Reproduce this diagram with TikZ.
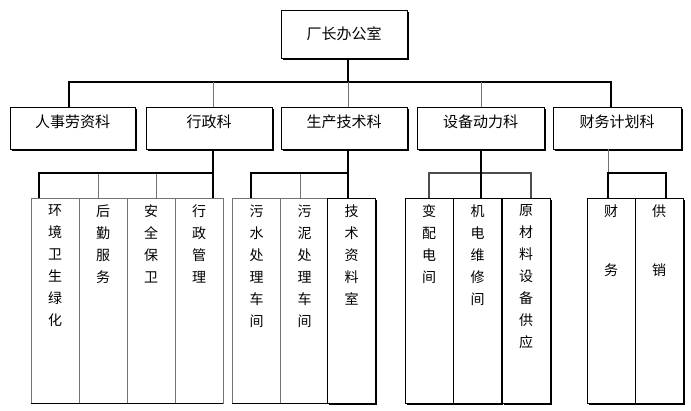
\documentclass[tikz,border=0pt]{standalone}
\usepackage{fontspec}
\newfontfamily\cjk{Noto Sans CJK SC}
\usetikzlibrary{shadows}
\tikzset{
  unitbox/.style={draw, fill=white, line width=0.8pt, inner sep=0pt,
    font=\cjk\fontsize{15}{22}\selectfont},
  shadowbox/.style={drop shadow={shadow xshift=1.8pt, shadow yshift=-1.8pt, opacity=1, fill=black}},
  rowbox/.style={unitbox, shadowbox, minimum height=42, text depth=14pt},
  cellbox/.style={draw=black!55, fill=white, line width=0.8pt, inner sep=0pt,
    minimum width=48, minimum height=205},
  celltext/.style={anchor=north, align=center, inner sep=0pt,
    font=\cjk\fontsize{14}{22}\selectfont},
  thickline/.style={line width=2.8pt},
  thinline/.style={line width=0.8pt, black!55},
  midline/.style={line width=1.6pt, black!70},
}

\begin{document}
\begin{tikzpicture}[x=1pt,y=-1pt]
  \useasboundingbox (0,0) rectangle (691,411);
  %%%%% START %%%%%

  \node[unitbox, shadowbox, minimum width=126, minimum height=48] (head) at (344,34) {厂长办公室};

  \node[rowbox, minimum width=125] (k1) at (72.5,128) {人事劳资科};
  \node[rowbox, minimum width=126] (k2) at (209,128) {行政科};
  \node[rowbox, minimum width=126] (k3) at (344,128) {生产技术科};
  \node[rowbox, minimum width=127] (k4) at (480.5,128) {设备动力科};
  \node[rowbox, minimum width=128] (k5) at (617,128) {财务计划科};

  % groups of cells
  \foreach \n/\x/\t in {c1/55/{环\\境\\卫\\生\\绿\\化}, c2/103/{后\\勤\\服\\务},
      c3/151/{安\\全\\保\\卫}, c4/199/{行\\政\\管\\理},
      c5/256.5/{污\\水\\处\\理\\车\\间}, c6/304.5/{污\\泥\\处\\理\\车\\间}}{
    \node[cellbox] (\n) at (\x,300.5) {};
    \node[celltext] at ([yshift=-7pt]\n.north) {\t};
  }
  \draw[line width=1.2pt] (c1.south west) -- (c4.south east);
  \draw[line width=1.2pt] (c5.south west) -- (c6.south east);

  \foreach \n/\x/\t in {c7/351.5/{技\\术\\资\\料\\室},
      c8/429/{变\\配\\电\\间}, c9/477.5/{机\\电\\维\\修\\间}, c10/526/{原\\材\\料\\设\\备\\供\\应},
      c11/611/{财\\[37pt]务}, c12/659/{供\\[37pt]销}}{
    \node[cellbox, draw=black, shadowbox] (\n) at (\x,300.5) {};
    \node[celltext] at ([yshift=-7pt]\n.north) {\t};
  }

  % top bus
  \coordinate (busL) at (69,82);
  \coordinate (busR) at (611,82);
  \coordinate (j2) at (213,82);
  \coordinate (j3) at (348,82);
  \coordinate (j4) at (481,82);
  \draw[thickline] (j3 |- head.south) -- (j3);
  \draw[thickline] (busL |- k1.north) -- (busL) -- (busR) -- (busR |- k5.north);
  \draw[thinline] (j2) -- (j2 |- k2.north);
  \draw[thinline] (j3) -- (j3 |- k3.north);
  \draw[thinline] (j4) -- (j4 |- k4.north);

  % brackets under the sections
  \coordinate (g1L) at (39,173);
  \coordinate (g1a) at (98,173);
  \coordinate (g1b) at (156,173);
  \coordinate (g1R) at (213,173);
  \draw[thinline] (g1a) -- (g1a |- c2.north);
  \draw[thinline] (g1b) -- (g1b |- c3.north);
  \draw[thickline] (g1L |- c1.north) -- (g1L) -- (g1R);
  \draw[thickline] (g1R |- k2.south) -- (g1R |- c4.north);

  \coordinate (g2L) at (251,173);
  \coordinate (g2a) at (300,173);
  \coordinate (g2R) at (348,173);
  \draw[thinline] (g2a) -- (g2a |- c6.north);
  \draw[thickline] (g2L |- c5.north) -- (g2L) -- (g2R);
  \draw[thickline] (g2R |- k3.south) -- (g2R |- c7.north);

  \coordinate (g3L) at (429,173);
  \coordinate (g3m) at (481,173);
  \coordinate (g3R) at (531,173);
  \draw[midline] (g3L |- c8.north) -- (g3L) -- (g3R) -- (g3R |- c10.north);
  \draw[thickline] (g3m |- k4.south) -- (g3m |- c9.north);

  \coordinate (g4L) at (608,173);
  \coordinate (g4R) at (666,173);
  \draw[thinline] (g4L |- k5.south) -- (g4L);
  \draw[thickline] (g4L |- c11.north) -- (g4L) -- (g4R) -- (g4R |- c12.north);

  %%%%% END %%%%%
\end{tikzpicture}
\end{document}
